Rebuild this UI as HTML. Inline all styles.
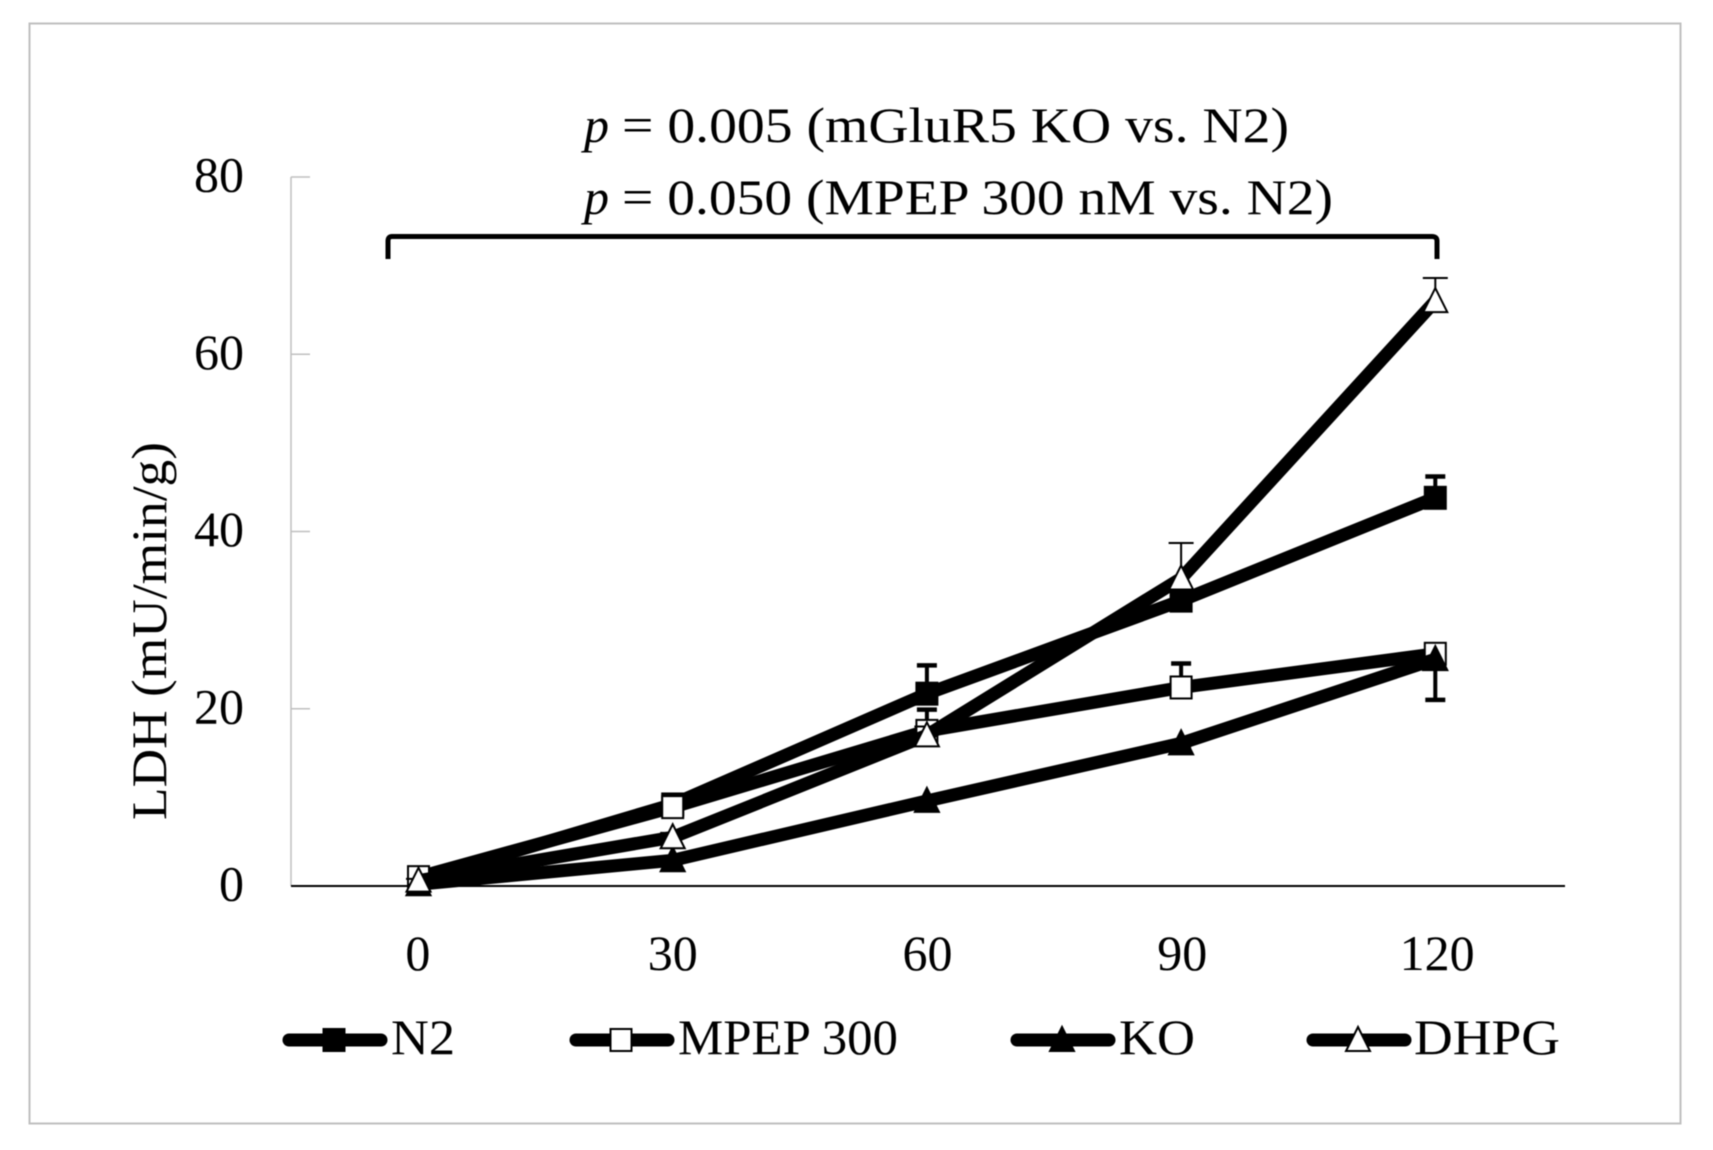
<!DOCTYPE html>
<html lang="en">
<head>
<meta charset="utf-8">
<title>LDH release chart</title>
<style>
  html, body { margin: 0; padding: 0; background: #fff; }
  svg { display: block; filter: blur(0.5px); }
  text { font-family: "Liberation Serif", serif; fill: #000; font-size: 50px; }
</style>
</head>
<body>
<svg id="chart" xmlns="http://www.w3.org/2000/svg" width="1713" height="1150" viewBox="0 0 1713 1150">
  <rect x="29.5" y="23.5" width="1651" height="1100" fill="#fff" stroke="#bfbfbf" stroke-width="2"/>
  <g id="axes"></g>
  <g id="series"></g>
  <g id="legend"></g>
  <g>
    <text x="584" y="142" font-style="italic">p</text>
    <text x="622" y="142" textLength="667" lengthAdjust="spacingAndGlyphs">= 0.005 (mGluR5 KO vs. N2)</text>
    <text x="584" y="214" font-style="italic">p</text>
    <text x="622" y="214" textLength="711" lengthAdjust="spacingAndGlyphs">= 0.050 (MPEP 300 nM vs. N2)</text>
    <path d="M388 259 V241 Q388 236.5 392 236.5 H1432 Q1437 236.5 1437 241 V259" fill="none" stroke="#000" stroke-width="5"/>
  </g>
  <text transform="translate(166 820) rotate(-90)" x="0" y="0" textLength="378" lengthAdjust="spacingAndGlyphs">LDH (mU/min/g)</text>
</svg>
<script>
const categories = ["0", "30", "60", "90", "120"];
const yTickValues = [0, 20, 40, 60, 80];
const seriesNames = ["N2", "MPEP 300", "KO", "DHPG"];
const n2Values = [0.7, 9.2, 21.7, 32.2, 43.8];
const mpepValues = [1.0, 8.9, 17.5, 22.4, 26.2];
const koValues = [0.2, 2.9, 9.6, 16.1, 25.6];
const dhpgValues = [0.6, 5.5, 17.0, 34.7, 66.0];
const n2Errors = [0.3, 0.5, 3.2, 1.0, 2.4];
const mpepErrors = [0.3, 0.5, 2.4, 2.7, 0.5];
const koErrors = [0.2, 0.3, 0.5, 0.5, 4.6];
const dhpgErrors = [0.2, 0.5, 1.0, 4.0, 2.6];

const NS = "http://www.w3.org/2000/svg";
const PLOT_LEFT = 291, PLOT_RIGHT = 1565, PLOT_BOTTOM = 886, PLOT_TOP = 177, Y_MAX = 80;
const xLabelAt = i => PLOT_LEFT + (i + 0.5) * (PLOT_RIGHT - PLOT_LEFT) / categories.length;
const xAt = i => 418.5 + i * 254.2;
const yAt = v => PLOT_BOTTOM - v * (PLOT_BOTTOM - PLOT_TOP) / Y_MAX;

function mk(tag, attrs, parent) {
  const el = document.createElementNS(NS, tag);
  for (const k in attrs) el.setAttribute(k, attrs[k]);
  parent.appendChild(el);
  return el;
}

function drawMarker(kind, cx, cy, parent) {
  let m;
  const fill = (kind === "N2" || kind === "KO") ? "#000" : "#fff";
  if (kind === "N2" || kind === "MPEP 300") {
    m = mk("rect", { x: cx - 10.5, y: cy - 11, width: 21, height: 22, fill: fill, stroke: "#000", "stroke-width": 2 }, parent);
  } else {
    m = mk("polygon", { points: (cx) + "," + (cy - 13) + " " + (cx + 12) + "," + (cy + 11) + " " + (cx - 12) + "," + (cy + 11), fill: fill, stroke: "#000", "stroke-width": 2 }, parent);
  }
  return m;
}

const axes = document.getElementById("axes");
const yAxisLine = mk("line", { x1: PLOT_LEFT, x2: PLOT_LEFT, y1: PLOT_TOP, y2: PLOT_BOTTOM, stroke: "#bfbfbf", "stroke-width": 1.5 }, axes);



yTickValues.forEach(v => {
  const tick = mk("line", { x1: PLOT_LEFT, x2: PLOT_LEFT + 19, y1: yAt(v), y2: yAt(v), stroke: "#bfbfbf", "stroke-width": 1.5 }, axes);
  
  
  const label = mk("text", { x: 244, y: yAt(v) + 14.5, "text-anchor": "end" }, axes);
  label.textContent = String(v);
  
  
});

const xAxisLine = mk("line", { x1: PLOT_LEFT, x2: PLOT_RIGHT, y1: PLOT_BOTTOM, y2: PLOT_BOTTOM, stroke: "#000", "stroke-width": 2 }, axes);



categories.forEach((c, i) => {
  const label = mk("text", { x: xLabelAt(i) - 0.5, y: 970, "text-anchor": "middle" }, axes);
  label.textContent = c;
  
  
});

const seriesLayer = document.getElementById("series");
const allValues = [n2Values, mpepValues, koValues, dhpgValues];
const allErrors = [n2Errors, mpepErrors, koErrors, dhpgErrors];

// error bars: N2, MPEP and DHPG extend upward, KO extends downward; DHPG bars are thin
allValues.forEach((vals, s) => {
  const group = mk("g", {}, seriesLayer);
  
  
  const thin = seriesNames[s] === "DHPG";
  const dir = seriesNames[s] === "KO" ? -1 : 1;
  vals.forEach((v, i) => {
    const end = yAt(v + dir * allErrors[s][i]);
    const half = thin ? 12.5 : 10;
    const stem = mk("line", { x1: xAt(i), x2: xAt(i), y1: yAt(v), y2: end, stroke: "#000", "stroke-width": thin ? 2 : 4 }, group);
    
    
    const cap = mk("line", { x1: xAt(i) - half, x2: xAt(i) + half, y1: end, y2: end, stroke: "#000", "stroke-width": thin ? 2 : 4.5 }, group);
    
    
  });
  const pts = vals.map((v, i) => xAt(i) + "," + yAt(v)).join(" ");
  const line = mk("polyline", { points: pts, fill: "none", stroke: "#000", "stroke-width": 13, "stroke-linejoin": "round", "stroke-linecap": "round" }, group);
  
  
  vals.forEach((v, i) => {
    const marker = drawMarker(seriesNames[s], xAt(i), yAt(v), group);
    
    
  });
});

// legend
const legendLayer = document.getElementById("legend");
const legendStarts = [283, 570, 1011, 1307];
const legendTextWidths = [64, 220, 76, 146];
seriesNames.forEach((name, i) => {
  const x0 = legendStarts[i];
  const entry = mk("g", {}, legendLayer);
  
  
  const ln = mk("line", { x1: x0 + 6, x2: x0 + 98, y1: 1040, y2: 1040, stroke: "#000", "stroke-width": 13, "stroke-linecap": "round" }, entry);
  
  
  const mark = drawMarker(name, x0 + 51, 1040, entry);
  
  
  const t = mk("text", { x: x0 + 108 - (i === 3 ? 1 : 0), y: 1054, textLength: legendTextWidths[i], lengthAdjust: "spacingAndGlyphs" }, entry);
  t.textContent = name;
  
  
});
</script>
</body>
</html>
